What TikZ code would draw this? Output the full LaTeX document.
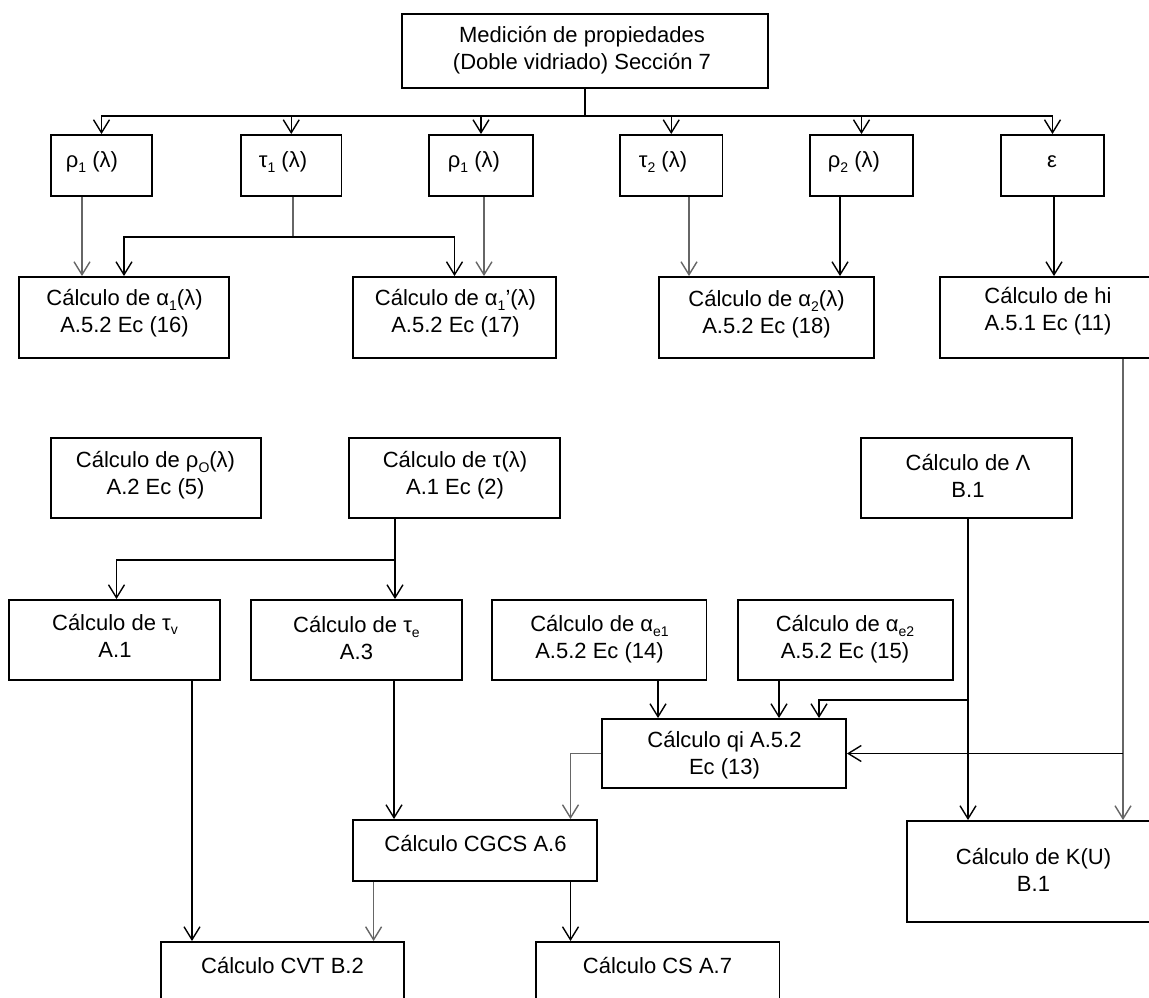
\documentclass[tikz,border=0pt]{standalone}
\usepackage{fontspec}
\setmainfont{Liberation Sans}
\usetikzlibrary{arrows.meta,fit}
\newcommand\dn[1]{\raisebox{-0.22em}{\fontsize{14}{14}\selectfont #1}}
\newcommand\bx[5]{\path (#2,#3) coordinate (#1nw) (#4,#5) coordinate (#1se); \node[box, fit=(#1nw)(#1se)] (#1) {};}
\tikzset{
  box/.style={draw=black, line width=1.9pt, inner sep=0pt, rectangle},
  txt/.style={inner sep=0pt, align=center, font=\fontsize{22}{27}\selectfont},
  link/.style={draw=black, line width=1.4pt},
  linkg/.style={draw=black!60, line width=1.4pt},
  arr/.style={link, -{Straight Barb[length=13pt,width=16pt]}},
  arrg/.style={linkg, -{Straight Barb[length=13pt,width=16pt]}}
}
\begin{document}
\begin{tikzpicture}[x=1pt,y=-1pt]
\useasboundingbox (0,0) rectangle (1149,998);
\clip (0,0) rectangle (1149,998);
\fill[white] (0,0) rectangle (1149,998);
% boxes
\bx{top}{402}{14}{768}{88}
\bx{r1}{51}{135}{152}{196}
\bx{t1}{241}{135}{341.5}{196}
\bx{r1b}{429}{135}{533}{196}
\bx{t2}{620}{135}{722.5}{196}
\bx{r2}{810}{135}{913}{196}
\bx{eps}{1001}{135}{1104}{196}
\bx{a1}{19}{277}{229}{358}
\bx{a1p}{353}{277}{556}{358}
\bx{a2}{659}{277}{874}{358}
\bx{hi}{940}{277}{1170}{358}
\bx{ro}{51}{438}{261}{518}
\bx{tau}{349}{438}{560}{518}
\bx{Lam}{861}{438}{1072}{518}
\bx{tv}{9}{600}{220}{680}
\bx{te}{251}{600}{462}{680}
\bx{ae1}{492}{600}{706.5}{680}
\bx{ae2}{738}{600}{953}{680}
\bx{qi}{602}{719}{846}{788}
\bx{CGCS}{353}{820}{597}{881}
\bx{KU}{907}{821}{1170}{922}
\bx{CVT}{161}{942}{404}{1010}
\bx{CS}{536}{942}{779.5}{1010}
% texts
\node[txt] (topt) at (582,50.5) {Medición de propiedades\\(Doble vidriado) Sección 7};
\node[txt] (r1t) at (92,162) {ρ\dn{1} (λ)};
\node[txt] (t1t) at (283,162) {τ\dn{1} (λ)};
\node[txt] (r1bt) at (474,162) {ρ\dn{1} (λ)};
\node[txt] (t2t) at (663,162) {τ\dn{2} (λ)};
\node[txt] (r2t) at (854,162) {ρ\dn{2} (λ)};
\node[txt] (epst) at (1052,162) {ε};
\node[txt] (a1t) at (124.5,313.5) {Cálculo de α\dn{1}(λ)\\A.5.2 Ec (16)};
\node[txt] (a1pt) at (455.5,313.5) {Cálculo de α\dn{1}’(λ)\\A.5.2 Ec (17)};
\node[txt] (a2t) at (766.5,314) {Cálculo de α\dn{2}(λ)\\A.5.2 Ec (18)};
\node[txt] (hit) at (1048,311.5) {Cálculo de hi\\A.5.1 Ec (11)};
\node[txt] (rot) at (155.5,475.5) {Cálculo de ρ\dn{O}(λ)\\A.2 Ec (5)};
\node[txt] (taut) at (455,475.5) {Cálculo de τ(λ)\\A.1 Ec (2)};
\node[txt] (Lamt) at (968,476) {Cálculo de Λ\\B.1};
\node[txt] (tvt) at (115,635.5) {Cálculo de τ\dn{v}\\A.1};
\node[txt] (tet) at (356.5,638.5) {Cálculo de τ\dn{e}\\A.3};
\node[txt] (ae1t) at (599.5,639) {Cálculo de α\dn{e1}\\A.5.2 Ec (14)};
\node[txt] (ae2t) at (845,639) {Cálculo de α\dn{e2}\\A.5.2 Ec (15)};
\node[txt] (qit) at (724.5,755) {Cálculo qi A.5.2\\Ec (13)};
\node[txt] (CGCSt) at (475.5,843) {Cálculo CGCS A.6};
\node[txt] (KUt) at (1033.5,870) {Cálculo de K(U)\\B.1};
\node[txt] (CVTt) at (282.5,965) {Cálculo CVT B.2};
\node[txt] (CSt) at (657.5,965) {Cálculo CS A.7};
% top bus
\path (top.south) ++(0,27) coordinate (bus);
\draw[link] (top.south) -- (bus);
\foreach \n in {r1,t1,r1b,t2,r2,eps}{
  \draw[arr] (bus) -| (\n.north);
}
% row 2
\draw[arrg] ([xshift=-19.5]r1.south) coordinate (c1) -- (c1 |- a1.north);
\draw[linkg] ([xshift=1.75]t1.south) -- ++(0,40) coordinate (t1j);
\draw[arr] (t1j) -| (a1.north);
\draw[arr] (t1j) -| (a1p.north);
\draw[arrg] ([xshift=3]r1b.south) coordinate (c2) -- (c2 |- a1p.north);
\draw[arrg] ([xshift=17.75]t2.south) coordinate (c3) -- (c3 |- a2.north);
\draw[arr] ([xshift=-21.5]r2.south) coordinate (c4) -- (c4 |- a2.north);
\draw[arr] ([xshift=1.5]eps.south) coordinate (c5) -- (c5 |- hi.north);
% hi line
\draw[arrg] ([xshift=68]hi.south) coordinate (hj) -- (hj |- KU.north);
\draw[arr] (hj |- qi.east) -- (qi.east);
% tau
\draw[arr] ([xshift=-59.5]tau.south) coordinate (tj) -- (tj |- te.north);
\path (tj) ++(0,41) coordinate (tj2);
\draw[arr] (tj2) -| ([xshift=2]tv.north);
% Lambda
\draw[arr] ([xshift=1.5]Lam.south) coordinate (lj) -- (lj |- KU.north);
\path (lj) ++(0,181) coordinate (lj2);
\draw[arr] (lj2) -| ([xshift=95]qi.north);
% alpha e
\draw[arr] ([xshift=58.75]ae1.south) coordinate (c6) -- (c6 |- qi.north);
\draw[arr] ([xshift=-66.5]ae2.south) coordinate (c7) -- (c7 |- qi.north);
% qi to CGCS
\draw[arrg] (qi.west) -| ([xshift=95.5]CGCS.north);
\draw[arr] ([xshift=37.5]te.south) coordinate (c8) -- (c8 |- CGCS.north);
\draw[arr] ([xshift=77.5]tv.south) coordinate (c9) -- (c9 |- CVT.north);
\draw[arrg] ([xshift=-101.4]CGCS.south) coordinate (c10) -- (c10 |- CVT.north);
\draw[arr] ([xshift=95.5]CGCS.south) coordinate (c11) -- (c11 |- CS.north);
\end{tikzpicture}
\end{document}
